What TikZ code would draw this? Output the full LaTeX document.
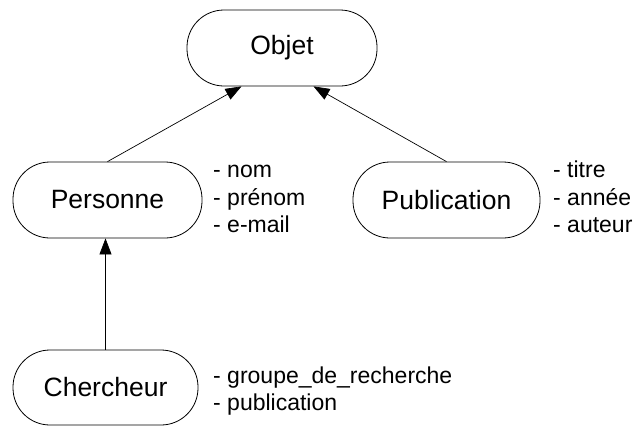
\documentclass[tikz,border=0pt]{standalone}
\usepackage{fontspec}
\setmainfont{Liberation Sans}
\usetikzlibrary{arrows.meta}
\begin{document}
\begin{tikzpicture}[x=1pt,y=-1pt,
  cls/.style={draw, line width=0.8pt, fill=white, rounded corners=37pt,
    minimum height=76pt, inner sep=0pt, font=\fontsize{26.5}{31}\selectfont},
  attr/.style={anchor=base west, inner sep=0pt, font=\fontsize{23}{27}\selectfont},
  inh/.style={line width=0.7pt, -{Triangle[length=16pt,width=12pt]}}]
\useasboundingbox (0,0) rectangle (636,426);
\node[cls, minimum width=190pt] (objet) at (282,48) {Objet};
\node[cls, minimum width=189pt] (personne) at (107.5,200) {Personne};
\node[cls, minimum width=187pt] (publication) at (446.5,200) {Publication};
\node[cls, minimum width=185pt, minimum height=75pt] (chercheur) at (105.5,387.5) {Chercheur};

\draw[inh] (personne.north) -- ([xshift=-40.5pt]objet.south);
\draw[inh] (publication.north) -- ([xshift=31.5pt]objet.south);
\draw[inh] (chercheur.north) -- (chercheur.north |- personne.south);

\node[attr] (pa1) at (213,177) {- nom};
\node[attr] (pa2) at (213,205) {- prénom};
\node[attr] (pa3) at (213,232.5) {- e-mail};
\node[attr] (ua1) at (553,177) {- titre};
\node[attr] (ua2) at (553,205) {- année};
\node[attr] (ua3) at (553,232.5) {- auteur};
\node[attr] (ca1) at (213,383) {- groupe\_de\_recherche};
\node[attr] (ca2) at (213,410) {- publication};
\end{tikzpicture}
\end{document}
